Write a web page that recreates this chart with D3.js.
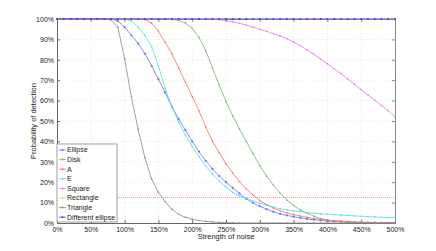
<!DOCTYPE html>
<html>
<head>
<meta charset="utf-8">
<script src="https://cdn.jsdelivr.net/npm/d3@7"></script>
<style>
  body { margin: 0; background: #fff; }
  text { font-family: "Liberation Sans", Arial, sans-serif; fill: #222; }
</style>
</head>
<body>
<svg id="chart" width="436" height="251"></svg>
<script>
// noise strength in %, 0..500 step 10
const noise = d3.range(0, 501, 10);

const ellipse = [100,100,100,100,100,100,100,100,100,99,96,92,88,83,77,70.5,64,57,51,45.5,40,35,30.5,26.5,23,20,17.2,14.5,11.8,9.8,8.2,6.8,5.5,4.5,3.7,3.1,2.5,2,1.6,1.3,1,0.8,0.6,0.45,0.35,0.25,0.2,0.15,0.1,0.1,0.1];
const disk = [100,100,100,100,100,100,100,100,100,100,100,100,100,100,100,100,100,99.8,99.3,98,95.5,91,84.5,76,67.5,59.5,52.5,46,40,34,28,23,18.6,14.6,11.3,8.6,6.4,4.8,3.3,2.2,1.5,1,0.7,0.5,0.3,0.2,0.15,0.1,0.1,0.1,0.1];
const letterA = [100,100,100,100,100,100,100,100,100,100,100,100,100,99.7,98,94,88.5,83,76,69,62,55,47,40,34.5,29,24.5,20.3,16.7,13.6,11,9,7.4,6,5,4.1,3.4,2.8,2.2,1.8,1.4,1.1,0.9,0.7,0.5,0.4,0.3,0.25,0.2,0.15,0.1];
const letterE = [100,100,100,100,100,100,100,100,100,100,100,99,96,92,86.5,77,66,57,49.5,43,37.5,32.5,28,24,20.5,17.5,15,13.3,12,10.8,9.7,8.7,7.8,7,6.4,5.9,5.5,5.1,4.8,4.5,4.3,4.1,3.9,3.7,3.5,3.3,3.1,3,2.8,2.7,2.6];
const square = [100,100,100,100,100,100,100,100,100,100,100,100,100,100,100,100,100,100,100,100,100,100,100,100,99.7,99.2,98.6,97.9,97,96,95,94,92.8,91.7,90.3,88.7,86.9,84.9,82.7,80.4,78,75.6,73.2,70.6,68,65.4,62.8,60.2,57.6,55,52];
const rectangle = noise.map(() => 100);
const triangle = [100,100,100,100,100,100,100,100,99.5,96,80.5,62,46,32,21.5,15,10.4,6.7,4.2,2.8,1.9,1.2,0.8,0.5,0.3,0.2,0.1,0,0,0,0,0,0,0,0,0,0,0,0,0,0,0,0,0,0,0,0,0,0,0,0];
const diffEllipse = noise.map(() => 100);

const seriesNames = ["Ellipse","Disk","A","E","Square","Rectangle","Triangle","Different ellipse"];
const seriesValues = [ellipse, disk, letterA, letterE, square, rectangle, triangle, diffEllipse];
const colors = ["#7070ff","#6fb46f","#ff6a6a","#4fe0e0","#e67ae6","#d8d86a","#8a8a8a","#3c3cff"];

const chanceLevel = 12.5;
const xTicks = d3.range(0, 501, 50);
const yTicks = d3.range(0, 101, 10);

const svg = d3.select("#chart");
const margin = { top: 19, right: 41, bottom: 28, left: 57 };
const width = +svg.attr("width");
const height = +svg.attr("height");

const x = d3.scaleLinear().domain([0, 500]).range([margin.left, width - margin.right]);
const y = d3.scaleLinear().domain([0, 100]).range([height - margin.bottom, margin.top]);

// grid
svg.append("g")
  .selectAll("line")
  .data(xTicks.slice(1, -1))
  .join("line")
  .attr("x1", d => x(d)).attr("x2", d => x(d))
  .attr("y1", y(0)).attr("y2", y(100))
  .attr("stroke", "#d8d8d8").attr("stroke-width", 0.6).attr("stroke-dasharray", "1,2");

svg.append("g")
  .selectAll("line")
  .data(yTicks.slice(1, -1))
  .join("line")
  .attr("x1", x(0)).attr("x2", x(500))
  .attr("y1", d => y(d)).attr("y2", d => y(d))
  .attr("stroke", "#d8d8d8").attr("stroke-width", 0.6).attr("stroke-dasharray", "1,2");

// axes
svg.append("g")
  .attr("transform", `translate(0,${y(0)})`)
  .call(d3.axisBottom(x).tickValues(xTicks).tickSize(-3).tickPadding(4).tickFormat(d => d + "%"))
  .call(g => g.select(".domain").attr("stroke", "#666"))
  .call(g => g.selectAll(".tick line").attr("stroke", "#666"))
  .call(g => g.selectAll("text").attr("font-size", 7).attr("font-family", "Liberation Sans").attr("fill", "#222"));

svg.append("g")
  .attr("transform", `translate(0,${y(100)})`)
  .call(d3.axisTop(x).tickValues(xTicks).tickSize(-3).tickFormat(""))
  .call(g => g.selectAll("path, line").attr("stroke", "#888"));

svg.append("g")
  .attr("transform", `translate(${x(0)},0)`)
  .call(d3.axisLeft(y).tickValues(yTicks).tickSize(-3).tickPadding(3).tickFormat(d => d + "%"))
  .call(g => g.select(".domain").attr("stroke", "#666"))
  .call(g => g.selectAll(".tick line").attr("stroke", "#666"))
  .call(g => g.selectAll("text").attr("font-size", 7).attr("font-family", "Liberation Sans").attr("fill", "#222"));

svg.append("g")
  .attr("transform", `translate(${x(500)},0)`)
  .call(d3.axisRight(y).tickValues(yTicks).tickSize(-3).tickFormat(""))
  .call(g => g.selectAll("path, line").attr("stroke", "#888"));

// chance level
svg.append("line")
  .attr("x1", x(0)).attr("x2", x(500))
  .attr("y1", y(chanceLevel)).attr("y2", y(chanceLevel))
  .attr("stroke", "#ff9a9a").attr("stroke-width", 1).attr("stroke-dasharray", "1,1");

// series
const line = d3.line().x((d, i) => x(noise[i])).y(d => y(d));

seriesValues.forEach((vals, k) => {
  const g = svg.append("g");
  g.append("path")
    .datum(vals)
    .attr("fill", "none")
    .attr("stroke", colors[k])
    .attr("stroke-width", 0.8)
    .attr("d", line);
  g.selectAll("circle")
    .data(vals)
    .join("circle")
    .attr("cx", (d, i) => x(noise[i]))
    .attr("cy", d => y(d))
    .attr("r", k === 0 || k === 7 ? 1.1 : 0.8)
    .attr("fill", colors[k]);
});

// axis labels
svg.append("text")
  .attr("x", (x(0) + x(500)) / 2)
  .attr("y", 239)
  .attr("text-anchor", "middle")
  .attr("font-size", 7.5)
  .text("Strength of noise");

svg.append("text")
  .attr("transform", `translate(36,${(y(0) + y(100)) / 2}) rotate(-90)`)
  .attr("text-anchor", "middle")
  .attr("font-size", 7.5)
  .text("Probability of detection");

// legend
const legend = svg.append("g").attr("transform", `translate(${x(0)},144)`);
legend.append("rect")
  .attr("width", 60).attr("height", 78)
  .attr("fill", "#fff").attr("stroke", "#888").attr("stroke-width", 0.8);

seriesNames.forEach((name, k) => {
  const ly = 6 + k * 9.6;
  legend.append("line")
    .attr("x1", 2).attr("x2", 9)
    .attr("y1", ly).attr("y2", ly)
    .attr("stroke", colors[k]).attr("stroke-width", 0.8);
  legend.append("circle")
    .attr("cx", 5.5).attr("cy", ly).attr("r", 1)
    .attr("fill", colors[k]);
  legend.append("text")
    .attr("x", 10).attr("y", ly)
    .attr("dy", "0.35em")
    .attr("font-size", 7)
    .text(name);
});
</script>
</body>
</html>
